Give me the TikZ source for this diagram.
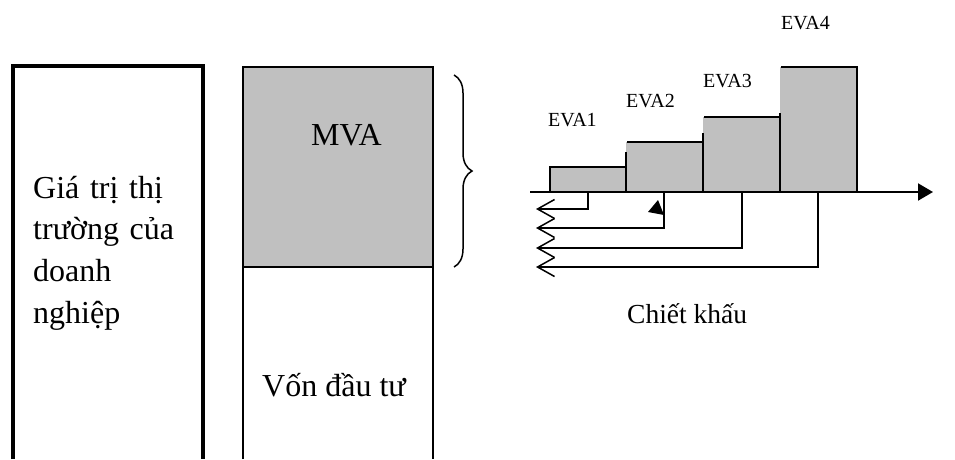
\documentclass[tikz,border=0pt]{standalone}
\usepackage{fontspec}
\setmainfont{Liberation Serif}
\usetikzlibrary{arrows.meta,decorations.pathreplacing}
\definecolor{barfill}{HTML}{C0C0C0}
\begin{document}
\begin{tikzpicture}[x=1pt,y=-1pt,
  bigtxt/.style={font=\fontsize{32}{41.7}\selectfont, inner sep=0pt, anchor=base west},
  evatxt/.style={font=\fontsize{20}{24}\selectfont, inner sep=0pt, anchor=base west},
  midtxt/.style={font=\fontsize{27.5}{30}\selectfont, inner sep=0pt, anchor=base west},
  barline/.style={line width=2pt},
  boxline/.style={line width=1.5pt},
  disc/.style={line width=1.5pt, -{Straight Barb[length=17pt,width=19pt,line width=1.5pt]}},
  ]
\useasboundingbox (0,0) rectangle (955,459);
% left box
\draw[line width=4pt] (13,459) -- (13,66) -- (203,66) -- (203,459);
\node[bigtxt, text width=165pt, align=left] (gia) at (33,198) {Giá trị thị\\trường của\\doanh\\nghiệp};
% middle box
\fill[barfill] (243,67) rectangle (433,267);
\draw[boxline] (243,459) -- (243,67) -- (433,67) -- (433,459);
\draw[boxline] (243,267) -- (433,267);
\node[bigtxt] (mva) at (311,145) {MVA};
\node[bigtxt] (von) at (262,396) {Vốn đầu tư};
% brace
\draw[line width=1.5pt, decorate, decoration={brace, amplitude=18pt}] (454,75) -- (454,267);
% bars
\fill[barfill] (550,167) rectangle (626,192);
\fill[barfill] (626,142) rectangle (703,192);
\fill[barfill] (703,117) rectangle (780,192);
\fill[barfill] (780,67) rectangle (857,192);
\draw[barline] (550,192) -- (550,167) -- (626,167) -- (626,192);
\draw[barline] (626,152) -- (626,192);
\draw[barline] (627,142) -- (703,142) -- (703,192);
\draw[barline] (703,133) -- (703,192);
\draw[barline] (704,117) -- (780,117) -- (780,192);
\draw[barline] (780,113) -- (780,192);
\draw[barline] (781,67) -- (857,67) -- (857,192);
% axis
\coordinate (ax0) at (530,192);
\coordinate (ax1) at (933,192);
\draw[line width=2pt, -{Triangle[length=15pt,width=17pt]}] (ax0) -- (ax1);
% labels
\node[evatxt] (eva1) at (548,126) {EVA1};
\node[evatxt] (eva2) at (626,107) {EVA2};
\node[evatxt] (eva3) at (703,87) {EVA3};
\node[evatxt] (eva4) at (781,29) {EVA4};
% discount lines
\coordinate (d1) at (588,192);
\coordinate (d2) at (664,192);
\coordinate (d3) at (742,192);
\coordinate (d4) at (818,192);
\coordinate (e1) at (536,209);
\coordinate (e2) at (536,228);
\coordinate (e3) at (536,248);
\coordinate (e4) at (536,267);
\draw[disc] (d1) |- (e1);
\draw[disc] (d2) |- (e2);
\draw[disc] (d3) |- (e3);
\draw[disc] (d4) |- (e4);
\fill (658,200) -- (648,212) -- (664,215) -- cycle;
\node[midtxt] (ck) at (627,323) {Chiết khấu};
\end{tikzpicture}
\end{document}
